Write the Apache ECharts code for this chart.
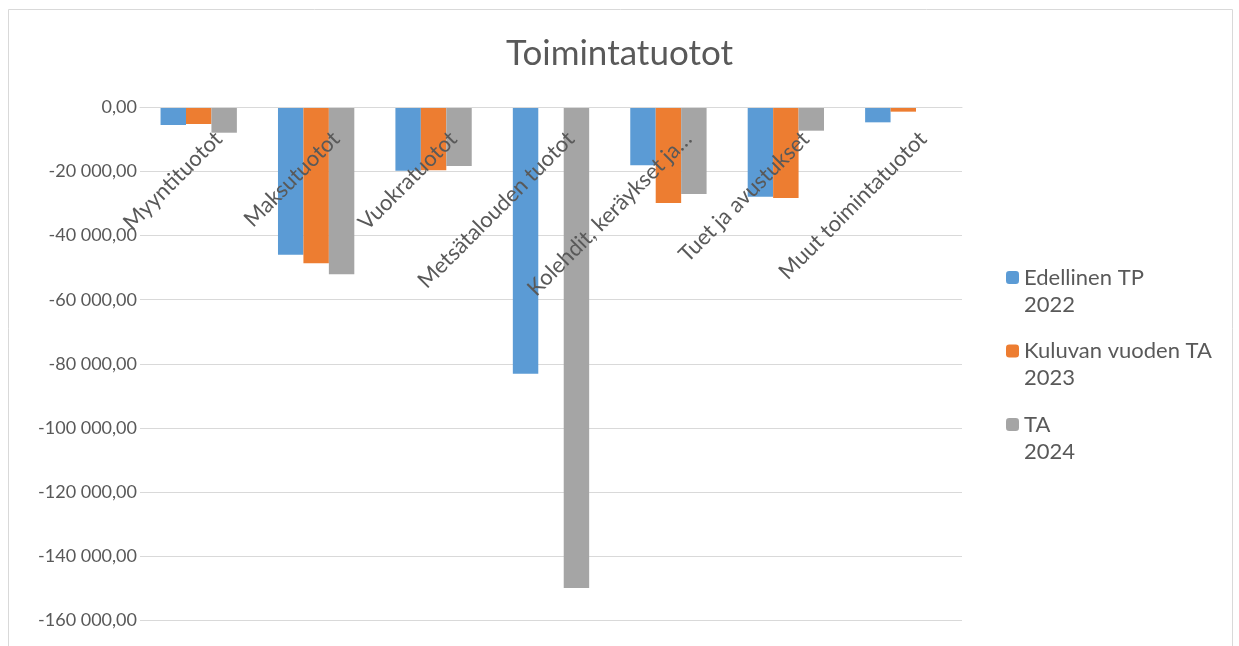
<!DOCTYPE html>
<html><head><meta charset="utf-8">
<script src="https://cdn.jsdelivr.net/npm/echarts@6/dist/echarts.min.js"></script>
<style>html,body{margin:0;padding:0;background:#fff}#c{width:1239px;height:646px}</style>
</head><body><div id="c"></div>
<script>
const categories = ["Myyntituotot","Maksutuotot","Vuokratuotot","Metsätalouden tuotot","Kolehdit, keräykset ja…","Tuet ja avustukset","Muut toimintatuotot"];
const seriesNames = ["Edellinen TP\n2022","Kuluvan vuoden TA\n2023","TA\n2024"];
const tp2022 = [-5460,-45950,-19730,-83100,-18050,-27840,-4630];
const ta2023 = [-5150,-48650,-19610,0,-29800,-28250,-1300];
const ta2024 = [-7870,-52080,-18260,-150000,-27000,-7240,0];
const yTicks = {min:-160000,max:0,interval:20000};
const colors = ["#5b9bd5","#ed7d31","#a5a5a5"];

const font = "Lato, 'Open Sans', sans-serif";
function fmt(v){
  const neg = v < 0; let s = Math.abs(Math.round(v)).toString();
  s = s.replace(/\B(?=(\d{3})+(?!\d))/g, " ");
  return (neg?"-":"") + s + ",00";
}
const chart = echarts.init(document.getElementById('c'));
const data = [tp2022, ta2023, ta2024];
chart.setOption({
  animation:false,
  backgroundColor:'#fff',
  graphic:[{type:'rect',shape:{x:8.5,y:9.5,width:1224,height:660},style:{fill:'none',stroke:'#d9d9d9',lineWidth:1}}],
  title:{text:'Toimintatuotot',left:'center',top:31,textStyle:{fontFamily:font,fontSize:35,fontWeight:'normal',color:'#595959'}},
  grid:{left:140,right:277,top:107.5,bottom:26,containLabel:false,outerBoundsMode:'none'},
  legend:{
    orient:'vertical',left:1001,top:232,itemWidth:13,itemHeight:13,itemGap:-7.5,
    data:seriesNames,
    formatter:n=>'{e|}\n'+n.split('\n').map(l=>'{a|'+l+'}').join('\n'),
    textStyle:{fontFamily:font,fontSize:22,color:'#595959',rich:{e:{height:27,lineHeight:27},a:{fontFamily:font,fontSize:22,color:'#595959',lineHeight:27,height:27}}}
  },
  xAxis:{type:'category',data:categories,position:'top',z:10,
    axisLine:{onZero:false,lineStyle:{color:'#d9d9d9'}},axisTick:{show:false},
    axisLabel:{interval:0,rotate:-45,inside:true,margin:8,fontFamily:font,fontSize:22,color:'#595959',
      formatter:v=>'{s|}\n{a|'+v+'}',
      rich:{s:{height:56,lineHeight:56},a:{fontFamily:font,fontSize:22,color:'#595959',height:26,lineHeight:26}}}},
  yAxis:{type:'value',min:yTicks.min,max:yTicks.max,interval:yTicks.interval,
    axisLine:{show:false},axisTick:{show:false},
    splitLine:{lineStyle:{color:'#d9d9d9',width:1}},
    axisLabel:{formatter:fmt,fontFamily:font,fontSize:18,color:'#595959',margin:3}},
  series:seriesNames.map((n,i)=>({name:n,type:'bar',data:data[i],barGap:'0%',barCategoryGap:'35%',
    itemStyle:{color:colors[i]}}))
});
</script></body></html>
